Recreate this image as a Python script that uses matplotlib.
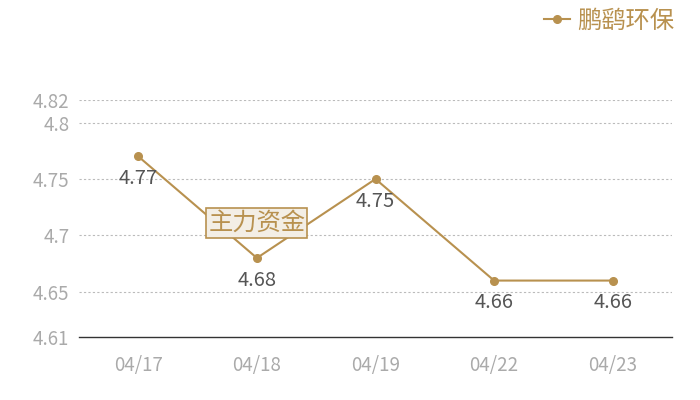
import matplotlib
matplotlib.use("Agg")
import matplotlib.pyplot as plt

plt.rcParams['font.family'] = ['Noto Sans CJK SC', 'DejaVu Sans']

# data
dates = ["04/17", "04/18", "04/19", "04/22", "04/23"]
prices = [4.77, 4.68, 4.75, 4.66, 4.66]
yticks = [4.61, 4.65, 4.7, 4.75, 4.8, 4.82]
ytick_labels = ["4.61", "4.65", "4.7", "4.75", "4.8", "4.82"]
series_name = "鹏鹞环保"
note = "主力资金"

gold = "#b8914f"
tick_gray = "#aaaaaa"

fig = plt.figure(figsize=(7, 4), dpi=100)
ax = fig.add_axes([79 / 700, 63 / 400, 593 / 700, 237 / 400])

x = range(len(dates))
ax.plot(x, prices, color=gold, lw=1.5, marker="o", ms=5.5, label=series_name, zorder=3)

for i, v in enumerate(prices):
    ax.annotate(f"{v:.2f}", (i, v), xytext=(0, -16), textcoords="offset points",
                ha="center", va="center", fontsize=14.5, color="#555555", zorder=4)

ax.text(1, 4.711, note, ha="center", va="center", fontsize=17.5, color=gold, zorder=5,
        bbox=dict(boxstyle="square,pad=0.08", fc="#f3eee5", ec=gold, lw=1.2))

ax.set_xlim(-0.5, len(dates) - 0.5)
ax.set_ylim(4.61, 4.82)
ax.set_xticks(list(x))
ax.set_xticklabels(dates)
ax.set_yticks(yticks)
ax.set_yticklabels(ytick_labels)
ax.tick_params(length=0, colors=tick_gray, labelsize=13.5)
ax.tick_params(axis="x", pad=13)
ax.tick_params(axis="y", pad=7)

for t in yticks[1:]:
    ax.axhline(t, color="#bbbbbb", lw=0.8, ls=(0, (2, 2)), zorder=1)

for side in ["top", "right", "left"]:
    ax.spines[side].set_visible(False)
ax.spines["bottom"].set_color("#333333")
ax.spines["bottom"].set_linewidth(1)

leg = fig.legend(loc="upper right", bbox_to_anchor=(0.995, 1.035), frameon=False,
                 fontsize=17.5, handlelength=1.1, handletextpad=0.3, labelcolor=gold)

fig.savefig("out.png", dpi=100)
